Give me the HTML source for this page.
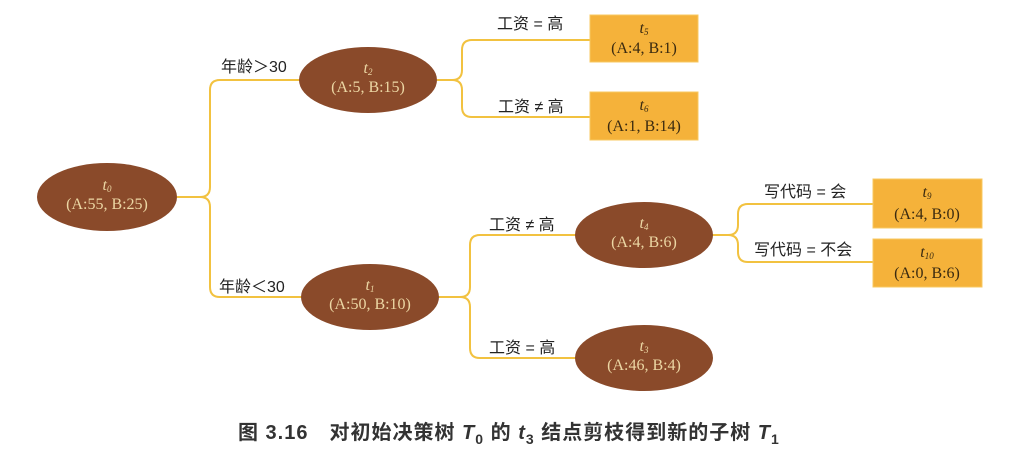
<!DOCTYPE html>
<html><head><meta charset="utf-8"><style>
body{margin:0;background:#fff;}
svg{display:block}
.e{fill:#8a4a2a}
.et{fill:#ecd7a4;font-family:"Liberation Serif",serif;font-size:16px;text-anchor:middle}
.bt{fill:#3a2a10;font-family:"Liberation Serif",serif;font-size:16px;text-anchor:middle}
.b{fill:#f5b23a;stroke:#f8c860;stroke-width:1}
.l{fill:none;stroke:#f2c240;stroke-width:2}
.lb{fill:#222;font-family:"Liberation Sans","Noto Sans CJK SC",sans-serif;font-size:16px}
</style></head><body>
<svg width="1030" height="449" viewBox="0 0 1030 449">
<path class="l" d="M177 197 H200 Q210 197 210 187 V90 Q210 80 220 80 H300"/>
<path class="l" d="M177 197 H200 Q210 197 210 207 V287 Q210 297 220 297 H302"/>
<path class="l" d="M437 80 H452 Q462 80 462 70 V50 Q462 40 472 40 H590"/>
<path class="l" d="M437 80 H452 Q462 80 462 90 V107 Q462 117 472 117 H590"/>
<path class="l" d="M438 297 H460 Q470 297 470 287 V245 Q470 235 480 235 H576"/>
<path class="l" d="M438 297 H460 Q470 297 470 307 V348 Q470 358 480 358 H576"/>
<path class="l" d="M712 235 H728 Q738 235 738 225 V214 Q738 204 748 204 H873"/>
<path class="l" d="M712 235 H728 Q738 235 738 245 V252 Q738 262 748 262 H873"/>
<text class="lb" x="221" y="72">年龄＞30</text>
<text class="lb" x="219" y="292">年龄＜30</text>
<text class="lb" x="497" y="29">工资 = 高</text>
<text class="lb" x="498" y="112">工资 ≠ 高</text>
<text class="lb" x="489" y="230">工资 ≠ 高</text>
<text class="lb" x="489" y="353">工资 = 高</text>
<text class="lb" x="764" y="197">写代码 = 会</text>
<text class="lb" x="754" y="255">写代码 = 不会</text>
<ellipse class="e" cx="107" cy="197" rx="70" ry="34"/>
<text class="et" x="107" y="190" font-style="italic" font-size="12">t<tspan font-size="9" dy="2">0</tspan></text>
<text class="et" x="107" y="209">(A:55, B:25)</text>
<ellipse class="e" cx="368" cy="80" rx="69" ry="33"/>
<text class="et" x="368" y="73" font-style="italic" font-size="12">t<tspan font-size="9" dy="2">2</tspan></text>
<text class="et" x="368" y="92">(A:5, B:15)</text>
<ellipse class="e" cx="370" cy="297" rx="69" ry="33"/>
<text class="et" x="370" y="290" font-style="italic" font-size="12">t<tspan font-size="9" dy="2">1</tspan></text>
<text class="et" x="370" y="309">(A:50, B:10)</text>
<ellipse class="e" cx="644" cy="235" rx="69" ry="33"/>
<text class="et" x="644" y="228" font-style="italic" font-size="12">t<tspan font-size="9" dy="2">4</tspan></text>
<text class="et" x="644" y="247">(A:4, B:6)</text>
<ellipse class="e" cx="644" cy="358" rx="69" ry="33"/>
<text class="et" x="644" y="351" font-style="italic" font-size="12">t<tspan font-size="9" dy="2">3</tspan></text>
<text class="et" x="644" y="370">(A:46, B:4)</text>
<rect class="b" x="590" y="15" width="108" height="47"/>
<text class="bt" x="644" y="33" font-style="italic" font-size="13">t<tspan font-size="9" dy="2">5</tspan></text>
<text class="bt" x="644" y="53">(A:4, B:1)</text>
<rect class="b" x="590" y="92" width="108" height="48"/>
<text class="bt" x="644" y="110" font-style="italic" font-size="13">t<tspan font-size="9" dy="2">6</tspan></text>
<text class="bt" x="644" y="131">(A:1, B:14)</text>
<rect class="b" x="873" y="179" width="109" height="49"/>
<text class="bt" x="927" y="197" font-style="italic" font-size="13">t<tspan font-size="9" dy="2">9</tspan></text>
<text class="bt" x="927" y="219">(A:4, B:0)</text>
<rect class="b" x="873" y="239" width="109" height="48"/>
<text class="bt" x="927" y="257" font-style="italic" font-size="13">t<tspan font-size="9" dy="2">10</tspan></text>
<text class="bt" x="927" y="278">(A:0, B:6)</text>
<text x="238" y="439" fill="#333" font-weight="bold" font-size="20" letter-spacing="1" font-family="'Liberation Sans','Noto Sans CJK SC',sans-serif">图 3.16　对初始决策树 <tspan font-style="italic">T</tspan><tspan font-size="14" dy="5">0</tspan><tspan dy="-5"> 的 </tspan><tspan font-style="italic">t</tspan><tspan font-size="14" dy="5">3</tspan><tspan dy="-5"> 结点剪枝得到新的子树 </tspan><tspan font-style="italic">T</tspan><tspan font-size="14" dy="5">1</tspan></text>
</svg>
</body></html>
